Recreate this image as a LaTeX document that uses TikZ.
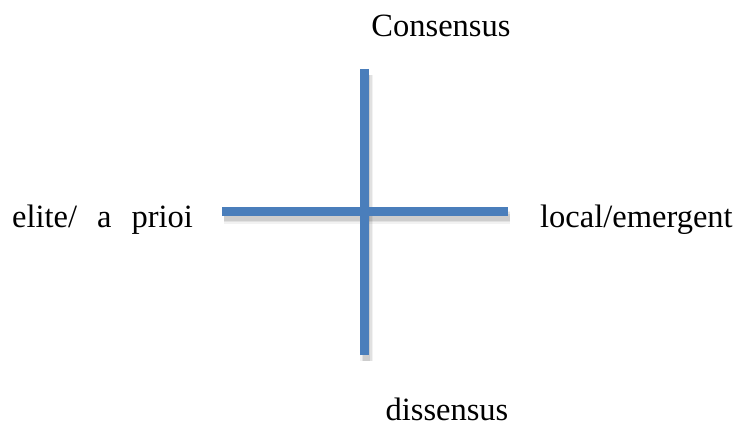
\documentclass[tikz,border=0pt]{standalone}
\usepackage{fontspec}
\setmainfont{Liberation Serif}
\definecolor{barblue}{HTML}{4A7EBB}
\tikzset{
  bar/.style={draw=barblue, line width=8.5pt},
  shade1/.style={draw=black, line width=13pt, opacity=0.05},
  shade2/.style={draw=black, line width=10pt, opacity=0.07},
  shade3/.style={draw=black, line width=7pt, opacity=0.09},
  lbl/.style={font=\fontsize{32.5}{38}\selectfont, inner sep=0pt, anchor=base}
}
\begin{document}
\begin{tikzpicture}[x=1pt,y=1pt]
\useasboundingbox (0,0) rectangle (734,427);
% coordinates for bars
\coordinate (vt) at (364.5,358);
\coordinate (vb) at (364.5,72);
\coordinate (hl) at (222,215.5);
\coordinate (hr) at (508,215.5);
% shadows
\foreach \s in {shade1,shade2,shade3}{
  \draw[\s] ([shift={(2,-6)}]vt) -- ([shift={(2,-6)}]vb);
  \draw[\s] ([shift={(2,-6)}]hl) -- ([shift={(2,-6)}]hr);
}
\draw[bar] (vt) -- (vb);
\draw[bar] (hl) -- (hr);
% labels
\node[lbl] (cons) at (441,390) {Consensus};
\node[lbl] (diss) at (447,6) {dissensus};
\node[lbl, anchor=base west] (elite) at (12,199) {elite/\hspace{20pt}a\hspace{20pt}prioi};
\node[lbl, anchor=base west] (local) at (540,199) {local/emergent};
\end{tikzpicture}
\end{document}
